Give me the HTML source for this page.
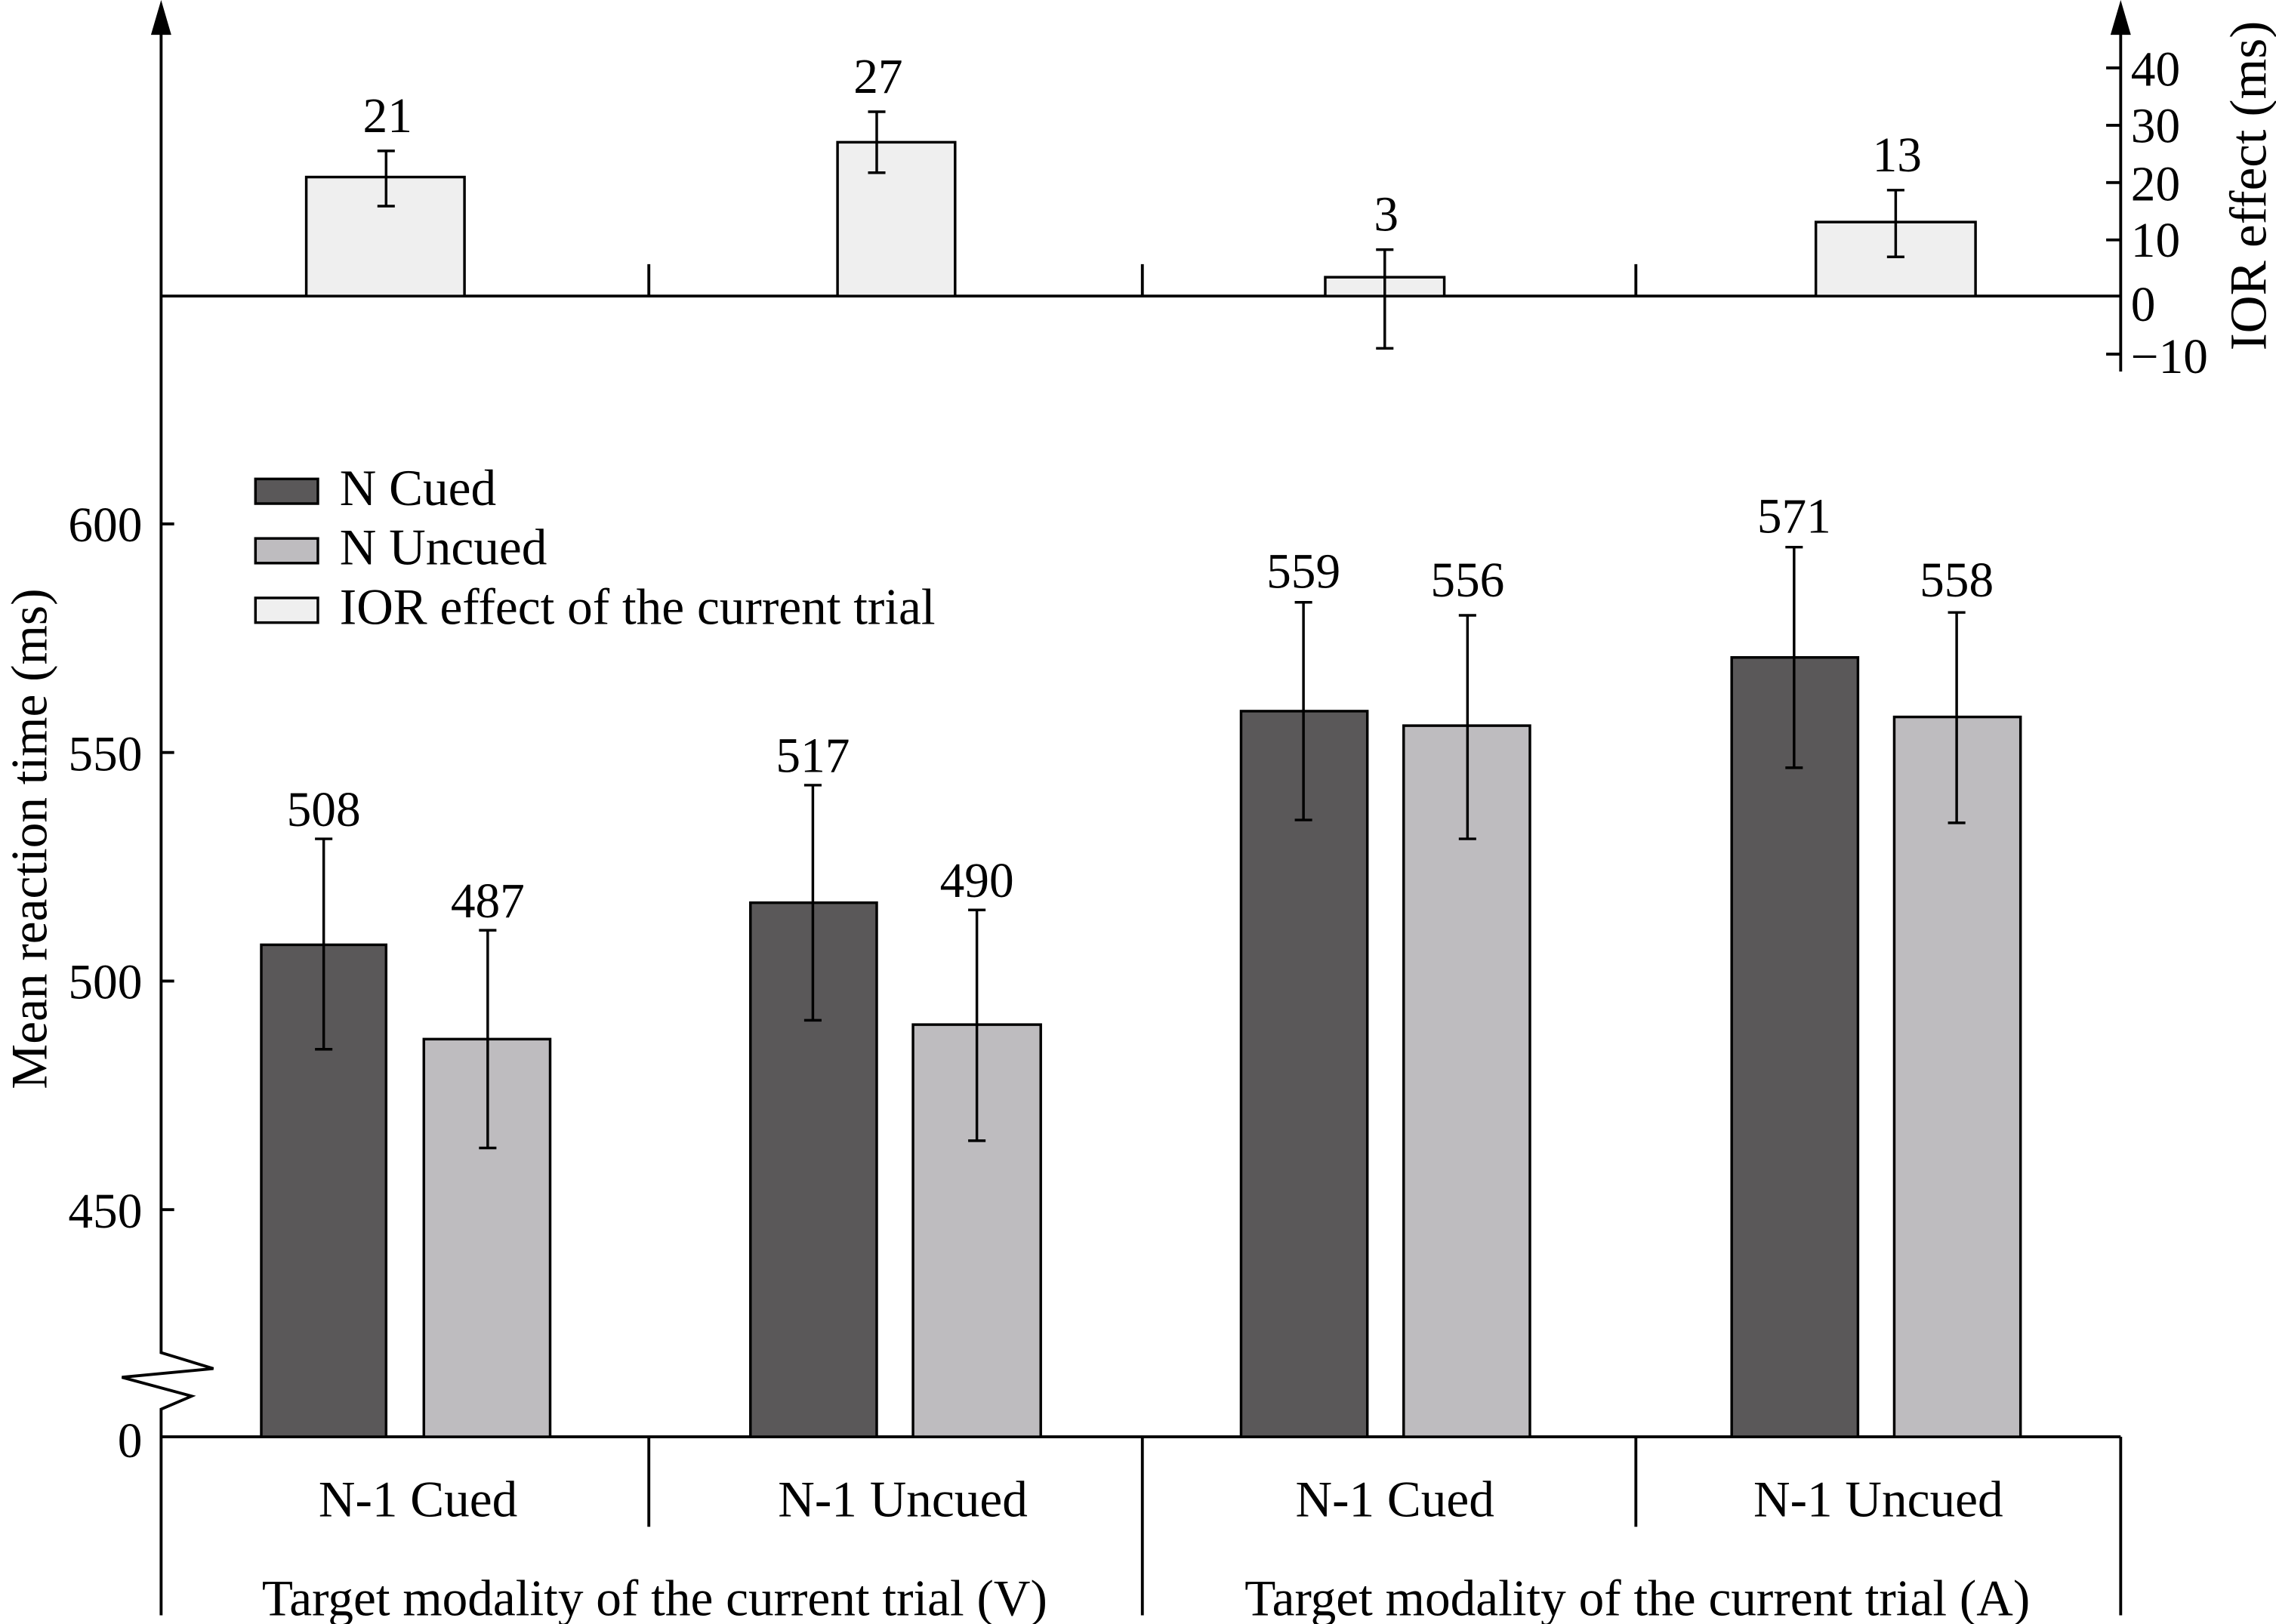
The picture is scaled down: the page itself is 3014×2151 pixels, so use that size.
<!DOCTYPE html>
<html><head><meta charset="utf-8"><style>
html,body{margin:0;padding:0;background:#fff;}
svg{display:block;}
text{font-family:"Liberation Serif",serif;fill:#000;}
</style></head><body>
<svg width="3014" height="2151" viewBox="0 0 1568 1119" preserveAspectRatio="none" xmlns="http://www.w3.org/2000/svg">
<g stroke="#000" stroke-width="2" fill="none">
<path d="M111 12 V932 L147 943 L84 949 L132 962 L111 971 V1113"/>
<path d="M111 990 H1461"/>
<path d="M111 361 h9 M111 518.5 h9 M111 676 h9 M111 833.5 h9"/>
<path d="M447 990 V1052 M787 990 V1113 M1127 990 V1052 M1461 990 V1113"/>
<path d="M111 204 H1461"/>
<path d="M447 182 V204 M787 182 V204 M1127 182 V204"/>
<path d="M1461 12 V256"/>
<path d="M1451 46.8 h10 M1451 86.3 h10 M1451 125.8 h10 M1451 165.3 h10 M1451 244 h10"/>
</g>
<polygon points="111,0 104,24 118,24" fill="#000"/>
<polygon points="1461,0 1454,24 1468,24" fill="#000"/>
<g stroke="#000" stroke-width="1.8" fill="#efefef">
<rect x="211" y="122" width="109" height="82"/>
<rect x="577" y="98" width="81" height="106"/>
<rect x="913" y="191" width="82" height="13"/>
<rect x="1251" y="153" width="110" height="51"/>
</g>
<g stroke="#000" stroke-width="1.8" fill="none">
<path d="M266 104 V142 M260 104 h12 M260 142 h12"/>
<path d="M604 77 V119 M598 77 h12 M598 119 h12"/>
<path d="M954 172 V240 M948 172 h12 M948 240 h12"/>
<path d="M1306 131 V177 M1300 131 h12 M1300 177 h12"/>
</g>
<g font-size="34" text-anchor="middle">
<text x="267" y="91">21</text>
<text x="605" y="64">27</text>
<text x="955" y="159">3</text>
<text x="1307" y="118">13</text>
</g>
<g stroke="#000" stroke-width="1.8">
<rect x="180" y="651" width="86" height="339" fill="#5a5859"/>
<rect x="292" y="716" width="87" height="274" fill="#bebcbf"/>
<rect x="517" y="622" width="87" height="368" fill="#5a5859"/>
<rect x="629" y="706" width="88" height="284" fill="#bebcbf"/>
<rect x="855" y="490" width="87" height="500" fill="#5a5859"/>
<rect x="967" y="500" width="87" height="490" fill="#bebcbf"/>
<rect x="1193" y="453" width="87" height="537" fill="#5a5859"/>
<rect x="1305" y="494" width="87" height="496" fill="#bebcbf"/>
</g>
<g stroke="#000" stroke-width="1.8" fill="none">
<path d="M223 578 V723 M217 578 h12 M217 723 h12"/>
<path d="M336 641 V791 M330 641 h12 M330 791 h12"/>
<path d="M560 541 V703 M554 541 h12 M554 703 h12"/>
<path d="M673 627 V786 M667 627 h12 M667 786 h12"/>
<path d="M898 415 V565 M892 415 h12 M892 565 h12"/>
<path d="M1011 424 V578 M1005 424 h12 M1005 578 h12"/>
<path d="M1236 377 V529 M1230 377 h12 M1230 529 h12"/>
<path d="M1348 422 V567 M1342 422 h12 M1342 567 h12"/>
</g>
<g font-size="34" text-anchor="middle">
<text x="223" y="569">508</text>
<text x="336" y="632">487</text>
<text x="560" y="532">517</text>
<text x="673" y="618">490</text>
<text x="898" y="405">559</text>
<text x="1011" y="411">556</text>
<text x="1236" y="367">571</text>
<text x="1348" y="411">558</text>
</g>
<g font-size="34" text-anchor="end">
<text x="98" y="373">600</text>
<text x="98" y="531">550</text>
<text x="98" y="688">500</text>
<text x="98" y="846">450</text>
<text x="98" y="1004">0</text>
</g>
<g font-size="34" text-anchor="start">
<text x="1468" y="59">40</text>
<text x="1468" y="98">30</text>
<text x="1468" y="138">20</text>
<text x="1468" y="177">10</text>
<text x="1468" y="221">0</text>
<text x="1468" y="257">−10</text>
</g>
<text font-size="36" text-anchor="middle" transform="translate(1561,128) rotate(-90)">IOR effect (ms)</text>
<text font-size="35" text-anchor="middle" transform="translate(32,578) rotate(-90)">Mean reaction time (ms)</text>
<g stroke="#000" stroke-width="1.8">
<rect x="176" y="330" width="43" height="17" fill="#5a5859"/>
<rect x="176" y="371" width="43" height="17" fill="#bebcbf"/>
<rect x="176" y="412" width="43" height="17" fill="#efefef"/>
</g>
<g font-size="35">
<text x="234" y="348">N Cued</text>
<text x="234" y="389">N Uncued</text>
<text x="234" y="430">IOR effect of the current trial</text>
</g>
<g font-size="35" text-anchor="middle">
<text x="288" y="1045">N-1 Cued</text>
<text x="622" y="1045">N-1 Uncued</text>
<text x="961" y="1045">N-1 Cued</text>
<text x="1294" y="1045">N-1 Uncued</text>
<text x="451" y="1113">Target modality of the current trial (V)</text>
<text x="1128" y="1113">Target modality of the current trial (A)</text>
</g>
</svg>
</body></html>
